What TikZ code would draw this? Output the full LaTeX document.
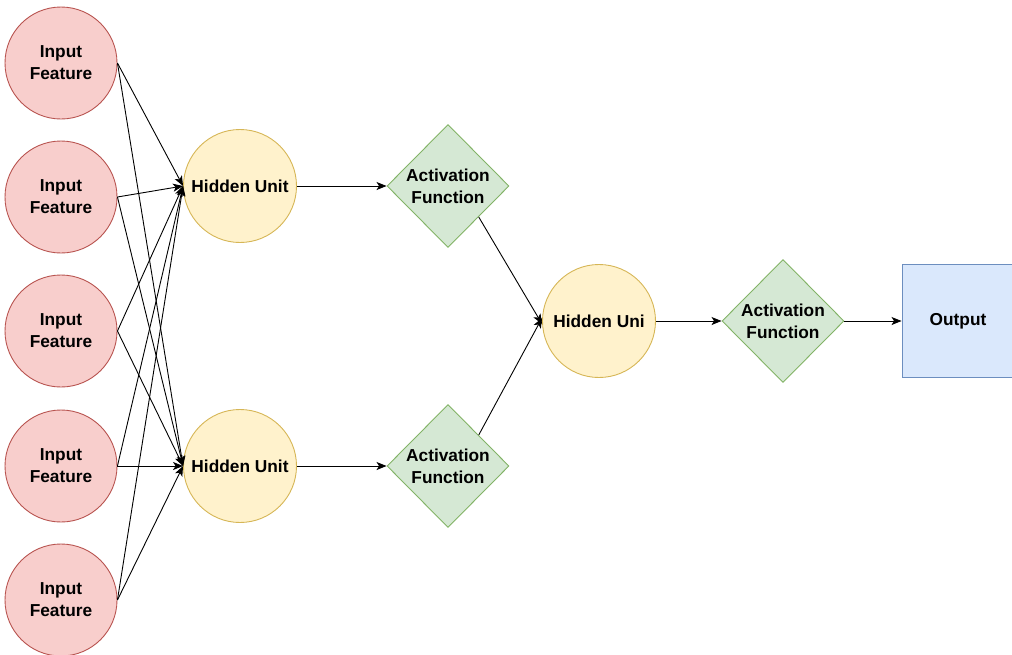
\documentclass[tikz,border=0pt]{standalone}
\usepackage{fontspec}
\setmainfont{Liberation Sans}
\usetikzlibrary{shapes.geometric,arrows.meta}
\definecolor{inFill}{HTML}{F8CECC}
\definecolor{inLine}{HTML}{B85450}
\definecolor{hidFill}{HTML}{FFF2CC}
\definecolor{hidLine}{HTML}{D6B656}
\definecolor{actFill}{HTML}{D5E8D4}
\definecolor{actLine}{HTML}{82B366}
\definecolor{outFill}{HTML}{DAE8FC}
\definecolor{outLine}{HTML}{6C8EBF}
\tikzset{
  lbl/.style={font=\fontsize{17.3}{22}\selectfont\bfseries, align=center, text=black},
  inputnode/.style={circle, draw=inLine, fill=inFill, line width=0.9pt, minimum size=112pt, inner sep=0pt, lbl},
  hiddennode/.style={circle, draw=hidLine, fill=hidFill, line width=0.9pt, minimum size=113pt, inner sep=0pt, lbl},
  actnode/.style={diamond, draw=actLine, fill=actFill, line width=0.9pt, minimum width=122pt, minimum height=123pt, inner sep=0pt},
  outnode/.style={rectangle, draw=outLine, fill=outFill, line width=0.9pt, minimum width=112pt, minimum height=113pt, inner sep=0pt, lbl},
  link/.style={draw=black, line width=0.9pt, -{Stealth[length=10pt,width=8pt,inset=2.5pt]}}
}
\begin{document}
\begin{tikzpicture}[x=1pt,y=-1pt]
  \useasboundingbox (0,0) rectangle (1012,654);
  \clip (0,0) rectangle (1012,654);
  % input layer
  \foreach \i/\y in {1/63,2/197,3/331,4/466,5/600}
    \node[inputnode] (in\i) at (61,\y) {Input\\Feature};
  % first hidden layer
  \node[hiddennode] (h1) at (240,186) {Hidden Unit};
  \node[hiddennode] (h2) at (240,466) {Hidden Unit};
  % activations of the first layer
  \node[actnode, label={[lbl]center:Activation\\Function}] (a1) at (448,186) {};
  \node[actnode, label={[lbl]center:Activation\\Function}] (a2) at (448,466) {};
  % second hidden layer
  \node[hiddennode] (h3) at (599,321) {Hidden Uni};
  \node[actnode, label={[lbl]center:Activation\\Function}] (a3) at (783,321) {};
  \node[outnode] (out) at (958,321) {Output};
  % fully connected inputs
  \foreach \i in {1,...,5} {
    \draw[link] (in\i.east) -- (h1.west);
    \draw[link] (in\i.east) -- (h2.west);
  }
  \draw[link] (h1.east) -- (a1.west);
  \draw[link] (h2.east) -- (a2.west);
  \draw[link] (a1.south east) -- ([yshift=-3pt]h3.west);
  \draw[link] (a2.north east) -- ([yshift=3pt]h3.west);
  \draw[link] (h3.east) -- (a3.west);
  \draw[link] (a3.east) -- (out.west);
\end{tikzpicture}
\end{document}
